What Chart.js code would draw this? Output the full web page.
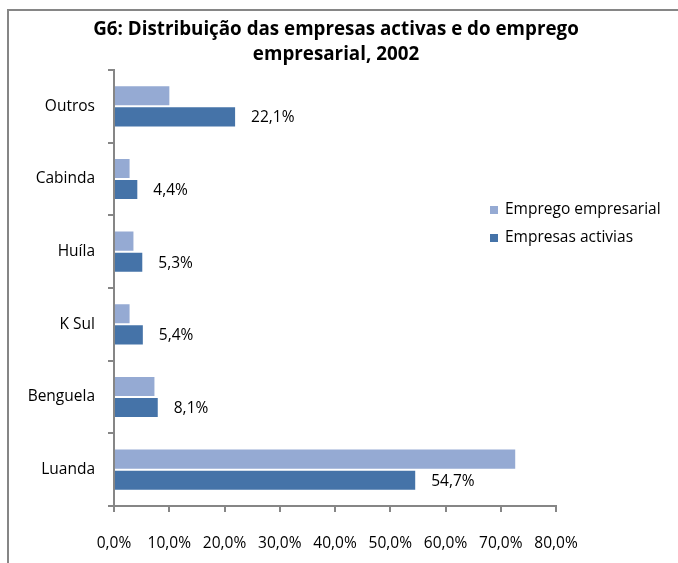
<!DOCTYPE html>
<html>
<head>
<meta charset="utf-8">
<script src="https://cdn.jsdelivr.net/npm/chart.js@4"></script>
<style>
  html, body { margin: 0; padding: 0; background: #fff; }
  #wrap { position: relative; width: 678px; height: 563px; }
</style>
</head>
<body>
<div id="wrap"><canvas id="distChart" width="678" height="563"></canvas></div>
<script>
// Dados
const regioes = ['Outros', 'Cabinda', 'Huíla', 'K Sul', 'Benguela', 'Luanda'];
const empregoEmpresarial = [10.2, 3.0, 3.7, 3.0, 7.5, 72.8];
const empresasActivias = [22.1, 4.4, 5.3, 5.4, 8.1, 54.7];
const xTicks = [0, 10, 20, 30, 40, 50, 60, 70, 80];
const tituloLinhas = ['G6: Distribuição das empresas activas e do emprego', 'empresarial, 2002'];

const corClara = '#95AAD3';
const corEscura = '#4573A8';
const cinza = '#868686';
const fonte = "'Open Sans', 'Noto Sans', sans-serif";

const fmt = v => v.toFixed(1).replace('.', ',') + '%';

// Moldura, título, legenda e rótulos
const extras = {
    id: 'extras',
    beforeDraw(chart) {
        const ctx = chart.ctx;
        ctx.save();
        ctx.strokeStyle = cinza;
        ctx.lineWidth = 2;
        ctx.beginPath();
        ctx.moveTo(8, 600);
        ctx.lineTo(8, 10);
        ctx.lineTo(700, 10);
        ctx.stroke();
        ctx.restore();
    },
    afterDraw(chart) {
        const ctx = chart.ctx;
        ctx.save();
        // título
        ctx.fillStyle = '#000';
        ctx.font = "bold 18.8px 'Open Sans', sans-serif";
        ctx.textAlign = 'center';
        ctx.textBaseline = 'middle';
        ctx.fillText(tituloLinhas[0], 336, 30);
        ctx.fillText(tituloLinhas[1], 336, 55);

        // legenda
        ctx.font = '15.5px ' + fonte;
        ctx.textAlign = 'left';
        const itens = [
            { t: chart.data.datasets[0].label, c: corClara, y: 210 },
            { t: chart.data.datasets[1].label, c: corEscura, y: 238 }
        ];
        itens.forEach(it => {
            ctx.fillStyle = it.c;
            ctx.fillRect(490, it.y - 4, 8, 8);
            ctx.fillStyle = '#000';
            ctx.fillText(it.t, 505, it.y);
        });
        ctx.restore();
    },
    afterDatasetsDraw(chart) {
        const ctx = chart.ctx;
        const meta = chart.getDatasetMeta(1);
        ctx.save();
        ctx.fillStyle = '#000';
        ctx.font = '15.5px ' + fonte;
        ctx.textAlign = 'left';
        ctx.textBaseline = 'middle';
        meta.data.forEach((bar, i) => {
            ctx.fillText(fmt(empresasActivias[i]), bar.x + 15, bar.y + 1);
        });
        ctx.restore();
    }
};

const ctx = document.getElementById('distChart').getContext('2d');
new Chart(ctx, {
    type: 'bar',
    data: {
        labels: regioes,
        datasets: [
            {
                label: 'Emprego empresarial',
                data: empregoEmpresarial,
                backgroundColor: corClara,
                borderColor: '#fff',
                borderWidth: 1,
                categoryPercentage: 0.58,
                barPercentage: 1
            },
            {
                label: 'Empresas activias',
                data: empresasActivias,
                backgroundColor: corEscura,
                borderColor: '#fff',
                borderWidth: 1,
                categoryPercentage: 0.58,
                barPercentage: 1
            }
        ]
    },
    options: {
        indexAxis: 'y',
        responsive: false,
        animation: false,
        layout: { padding: { top: 70, right: 122, left: 0, bottom: 0 } },
        plugins: {
            legend: { display: false },
            title: { display: false },
            tooltip: { enabled: false }
        },
        scales: {
            x: {
                min: 0,
                max: 80,
                afterBuildTicks(scale) {
                    scale.ticks = xTicks.map(v => ({ value: v }));
                },
                afterFit(scale) { scale.height = 57; },
                grid: {
                    drawOnChartArea: false,
                    drawTicks: true,
                    tickLength: 6,
                    color: cinza,
                    lineWidth: 2
                },
                border: { color: cinza, width: 2 },
                ticks: {
                    color: '#000',
                    font: { family: fonte, size: 15.5 },
                    padding: 22,
                    maxRotation: 0,
                    autoSkip: false,
                    callback: v => fmt(v)
                }
            },
            y: {
                afterFit(scale) { scale.width = 114; },
                grid: {
                    offset: true,
                    drawOnChartArea: false,
                    drawTicks: true,
                    tickLength: 6,
                    color: cinza,
                    lineWidth: 2
                },
                border: { color: cinza, width: 2 },
                ticks: {
                    color: '#000',
                    font: { family: fonte, size: 15.5 },
                    padding: 13
                }
            }
        }
    },
    plugins: [extras]
});
</script>
</body>
</html>
